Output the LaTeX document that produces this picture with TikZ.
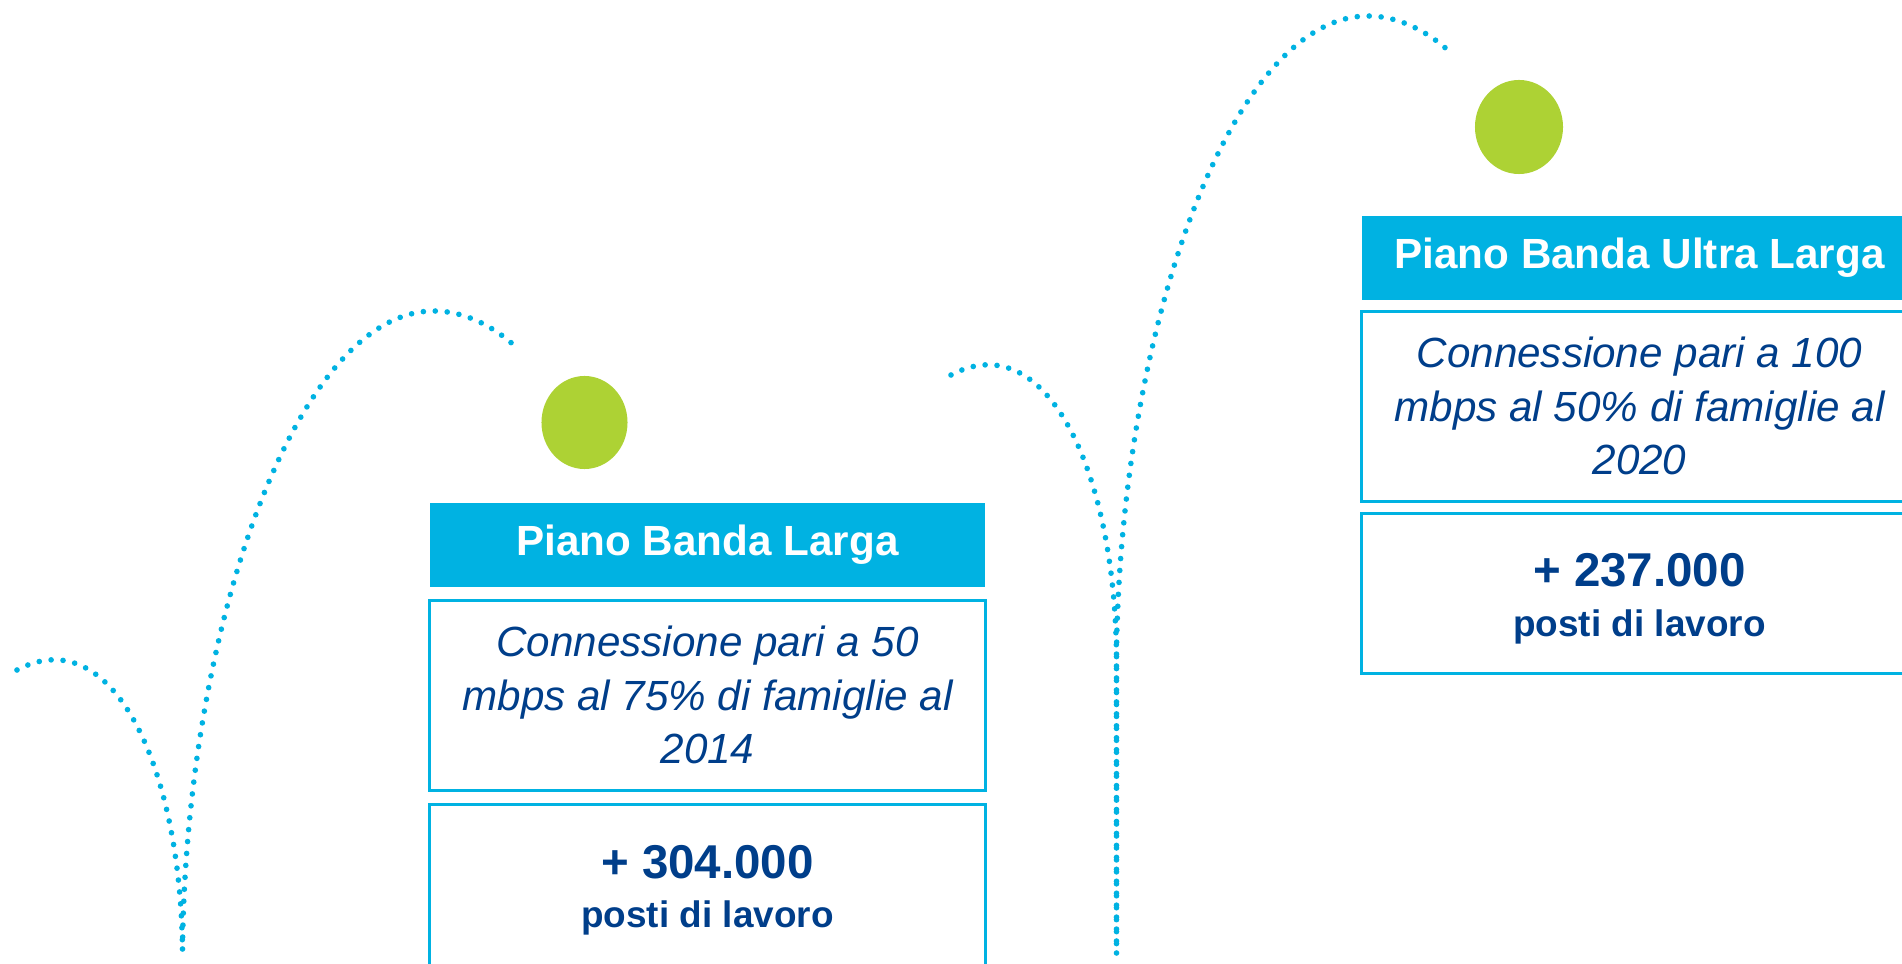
\documentclass[tikz,border=0pt]{standalone}
\usepackage{fontspec}
\setmainfont{Liberation Sans}
\usetikzlibrary{positioning}

\definecolor{ciano}{RGB}{0,178,226}
\definecolor{blu}{RGB}{0,62,138}
\definecolor{verde}{RGB}{173,210,52}

\tikzset{
  titolo/.style={fill=ciano, text=white, font=\bfseries\fontsize{12}{14}\selectfont,
    minimum width=5.55cm, minimum height=0.84cm, inner sep=0pt},
  riquadro/.style={draw=ciano, line width=0.85pt, minimum width=5.55cm, inner sep=0pt,
    align=center, text=blu},
  testo/.style={riquadro, minimum height=1.9cm, font=\itshape\fontsize{12}{15.2}\selectfont},
  posti/.style={riquadro, minimum height=1.61cm, font=\bfseries\fontsize{10.5}{14.2}\selectfont},
  puntini/.style={ciano, line width=1.6pt, line cap=round, dash pattern=on 0pt off 3.4pt},
}
\newcommand{\cifra}[1]{\rule{0pt}{12.5pt}{\fontsize{13.5}{14.2}\selectfont #1}}

\begin{document}
\begin{tikzpicture}[x=0.01cm,y=-0.01cm]
\useasboundingbox (0,0) rectangle (1902,964);
\clip (0,0) rectangle (1902,964);

%% germogli
\foreach \sx/\sy/\st in {0/0/0,934/-295/299}{
\begin{scope}[shift={(\sx,\sy)}]
	% foglia piccola
	\draw [puntini] (17,670) .. controls (110,620) and (180,760) .. (182.5,949) -- (182.5,{949+\st});
	% foglia grande
	\draw [puntini] (182.5,{949+\st}) -- (182.5,949) .. controls (186,630) and (295,311) .. (434,311)
		.. controls (468,311) and (498,330) .. (517,348);
\end{scope}
}

%% Piano Banda Larga
\fill [verde] (584.5,422.5) ellipse (0.43cm and 0.465cm);
\node [titolo] (tit1) at (707.5,545) {Piano Banda Larga};
\node [testo, below=0.11cm of tit1] (txt1) {Connessione pari a 50\\mbps al 75\% di famiglie al\\2014};
\node [posti, below=0.11cm of txt1] (pos1) {\cifra{+ 304.000}\\posti di lavoro};

%% Piano Banda Ultra Larga
\fill [verde] (1519,127) ellipse (0.44cm and 0.47cm);
\node [titolo] (tit2) at (1639.5,258) {Piano Banda Ultra Larga};
\node [testo, below=0.09cm of tit2] (txt2) {Connessione pari a 100\\mbps al 50\% di famiglie al\\2020};
\node [posti, below=0.09cm of txt2, minimum height=1.6cm] (pos2) {\cifra{+ 237.000}\\posti di lavoro};

\end{tikzpicture}
\end{document}
